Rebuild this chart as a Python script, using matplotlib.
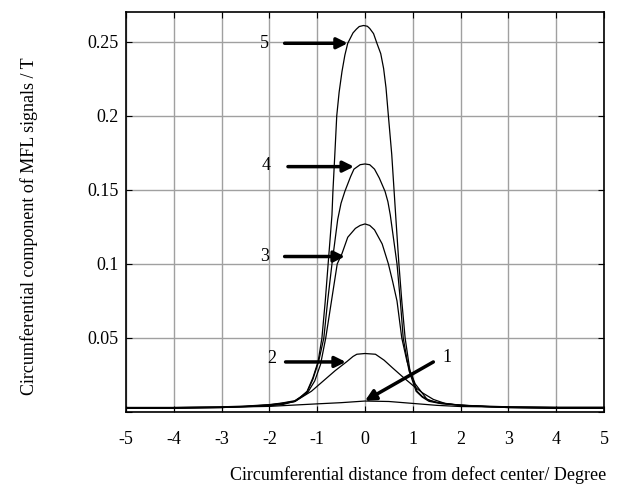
import matplotlib
matplotlib.use("Agg")
import matplotlib.pyplot as plt

plt.rcParams['font.family'] = ['Liberation Serif', 'DejaVu Serif']

# curve 5
x5 = [-5.0, -4.0, -3.0, -2.5, -2.0, -1.75, -1.47, -1.35, -1.21, -1.09, -0.98, -0.9, -0.83,
      -0.77, -0.69, -0.67, -0.63, -0.59, -0.54, -0.48, -0.42, -0.36, -0.25, -0.18, -0.12,
      -0.03, 0.05, 0.1, 0.18, 0.25, 0.33, 0.39, 0.44, 0.49, 0.56, 0.61, 0.65, 0.71, 0.77,
      0.84, 0.94, 1.09, 1.2, 1.36, 1.6, 2.0, 2.5, 3.0, 4.0, 5.0]
y5 = [0.003, 0.003, 0.0035, 0.004, 0.005, 0.006, 0.0076, 0.010, 0.014, 0.023, 0.034, 0.05, 0.075,
      0.10, 0.133, 0.149, 0.174, 0.200, 0.216, 0.230, 0.241, 0.249, 0.256, 0.2585, 0.2603,
      0.261, 0.2605, 0.259, 0.2555, 0.249, 0.242, 0.232, 0.219, 0.200, 0.174, 0.149, 0.129, 0.10, 0.075,
      0.05, 0.028, 0.014, 0.0105, 0.0076, 0.0058, 0.0046, 0.004, 0.0035, 0.003, 0.003]

# curve 4
x4 = [-5.0, -4.0, -3.0, -2.5, -2.0, -1.75, -1.47, -1.21, -1.09, -0.97, -0.86, -0.78, -0.69,
      -0.57, -0.5, -0.42, -0.3, -0.23, -0.1, 0.0, 0.1, 0.2, 0.3, 0.42, 0.48, 0.53, 0.67, 0.74,
      0.8, 0.92, 1.07, 1.2, 1.34, 1.6, 2.0, 2.5, 3.0, 4.0, 5.0]
y4 = [0.0025, 0.0025, 0.003, 0.0038, 0.0048, 0.0058, 0.0072, 0.0135, 0.022, 0.034, 0.05, 0.075, 0.10,
      0.13, 0.141, 0.149, 0.159, 0.164, 0.167, 0.1675, 0.167, 0.164, 0.158, 0.149, 0.142, 0.133, 0.10, 0.075,
      0.05, 0.028, 0.014, 0.010, 0.0072, 0.0056, 0.0046, 0.0038, 0.003, 0.0025, 0.0025]

# curve 3
x3 = [-5.0, -4.0, -3.0, -2.5, -2.0, -1.75, -1.47, -1.2, -1.05, -0.93, -0.82, -0.7, -0.58,
      -0.48, -0.36, -0.2, -0.1, 0.0, 0.1, 0.2, 0.36, 0.49, 0.58, 0.67, 0.77, 0.88,
      0.94, 1.05, 1.3, 1.5, 2.0, 2.5, 3.0, 4.0, 5.0]
y3 = [0.0025, 0.0025, 0.003, 0.0037, 0.0046, 0.0055, 0.007, 0.013, 0.021, 0.032, 0.05, 0.075, 0.10,
      0.107, 0.118, 0.124, 0.126, 0.127, 0.126, 0.123, 0.1135, 0.10, 0.088, 0.075, 0.05, 0.034,
      0.028, 0.019, 0.0085, 0.0065, 0.0046, 0.0037, 0.003, 0.0025, 0.0025]

# curve 2
x2 = [-5.0, -4.0, -3.0, -2.5, -2.0, -1.7, -1.45, -1.12, -0.87, -0.62, -0.38, -0.25, -0.17, 0.0,
      0.22, 0.4, 0.57, 0.78, 1.0, 1.2, 1.43, 1.7, 2.0, 2.5, 3.0, 4.0, 5.0]
y2 = [0.003, 0.003, 0.0033, 0.0036, 0.0042, 0.0052, 0.0074, 0.014, 0.021, 0.028, 0.034, 0.0375, 0.039, 0.0395,
      0.039, 0.035, 0.030, 0.024, 0.018, 0.013, 0.0085, 0.0055, 0.0045, 0.0037, 0.0034, 0.003, 0.003]

# curve 1
x1 = [-5.0, -4.0, -3.0, -2.0, -1.0, -0.5, 0.0, 0.5, 1.0, 1.5, 2.0, 3.0, 4.0, 5.0]
y1 = [0.003, 0.003, 0.0032, 0.0038, 0.0055, 0.0063, 0.0074, 0.0071, 0.0058, 0.0045, 0.0037, 0.0033, 0.0032, 0.0032]

curve_labels = ['5', '4', '3', '2', '1']
label_pos = [(-2.1, 0.249), (-2.07, 0.1665), (-2.1, 0.105), (-1.95, 0.036), (1.72, 0.0365)]
arrow_tail = [(-1.68, 0.249), (-1.61, 0.1657), (-1.68, 0.105), (-1.66, 0.0338), (1.43, 0.0338)]
arrow_head = [(-0.36, 0.249), (-0.23, 0.1657), (-0.42, 0.105), (-0.4, 0.0338), (0.0, 0.0075)]

fig = plt.figure(figsize=(6.17, 4.87), dpi=100)
ax = fig.add_axes([0.204, 0.154, 0.775, 0.821])

for xs, ys in [(x1, y1), (x2, y2), (x3, y3), (x4, y4), (x5, y5)]:
    ax.plot(xs, ys, color='black', lw=0.9)

for lab, (lx, ly), tail, head in zip(curve_labels, label_pos, arrow_tail, arrow_head):
    ax.text(lx, ly, lab, fontsize=13, ha='center', va='center')
    ax.annotate('', xy=head, xytext=tail,
                arrowprops=dict(arrowstyle='-|>', lw=2.5, color='black', mutation_scale=16,
                                shrinkA=0, shrinkB=0))

ax.set_xlim(-5, 5)
ax.set_ylim(0, 0.27)
ax.set_xticks([-5, -4, -3, -2, -1, 0, 1, 2, 3, 4, 5])
ax.set_xticklabels(['-5', '-4', '-3', '-2', '-1', '0', '1', '2', '3', '4', '5'])
ax.set_yticks([0, 0.05, 0.1, 0.15, 0.2, 0.25])
ax.set_yticklabels(['', '0.05', '0.1', '0.15', '0.2', '0.25'])
ax.grid(True, color='#a0a0a0', lw=1.0)
ax.set_axisbelow(True)
ax.tick_params(direction='in', top=True, right=True, length=4, labelsize=13)
ax.tick_params(axis='x', pad=14)
ax.tick_params(axis='y', pad=5)
for sp in ax.spines.values():
    sp.set_linewidth(1.2)

fig.text(0.677, 0.025, 'Circumferential distance from defect center/ Degree',
         fontsize=13, ha='center', va='center')
fig.text(0.047, 0.536, 'Circumferential component of MFL signals / T',
         fontsize=13, ha='center', va='center', rotation=90)

fig.savefig('out.png', dpi=100)
